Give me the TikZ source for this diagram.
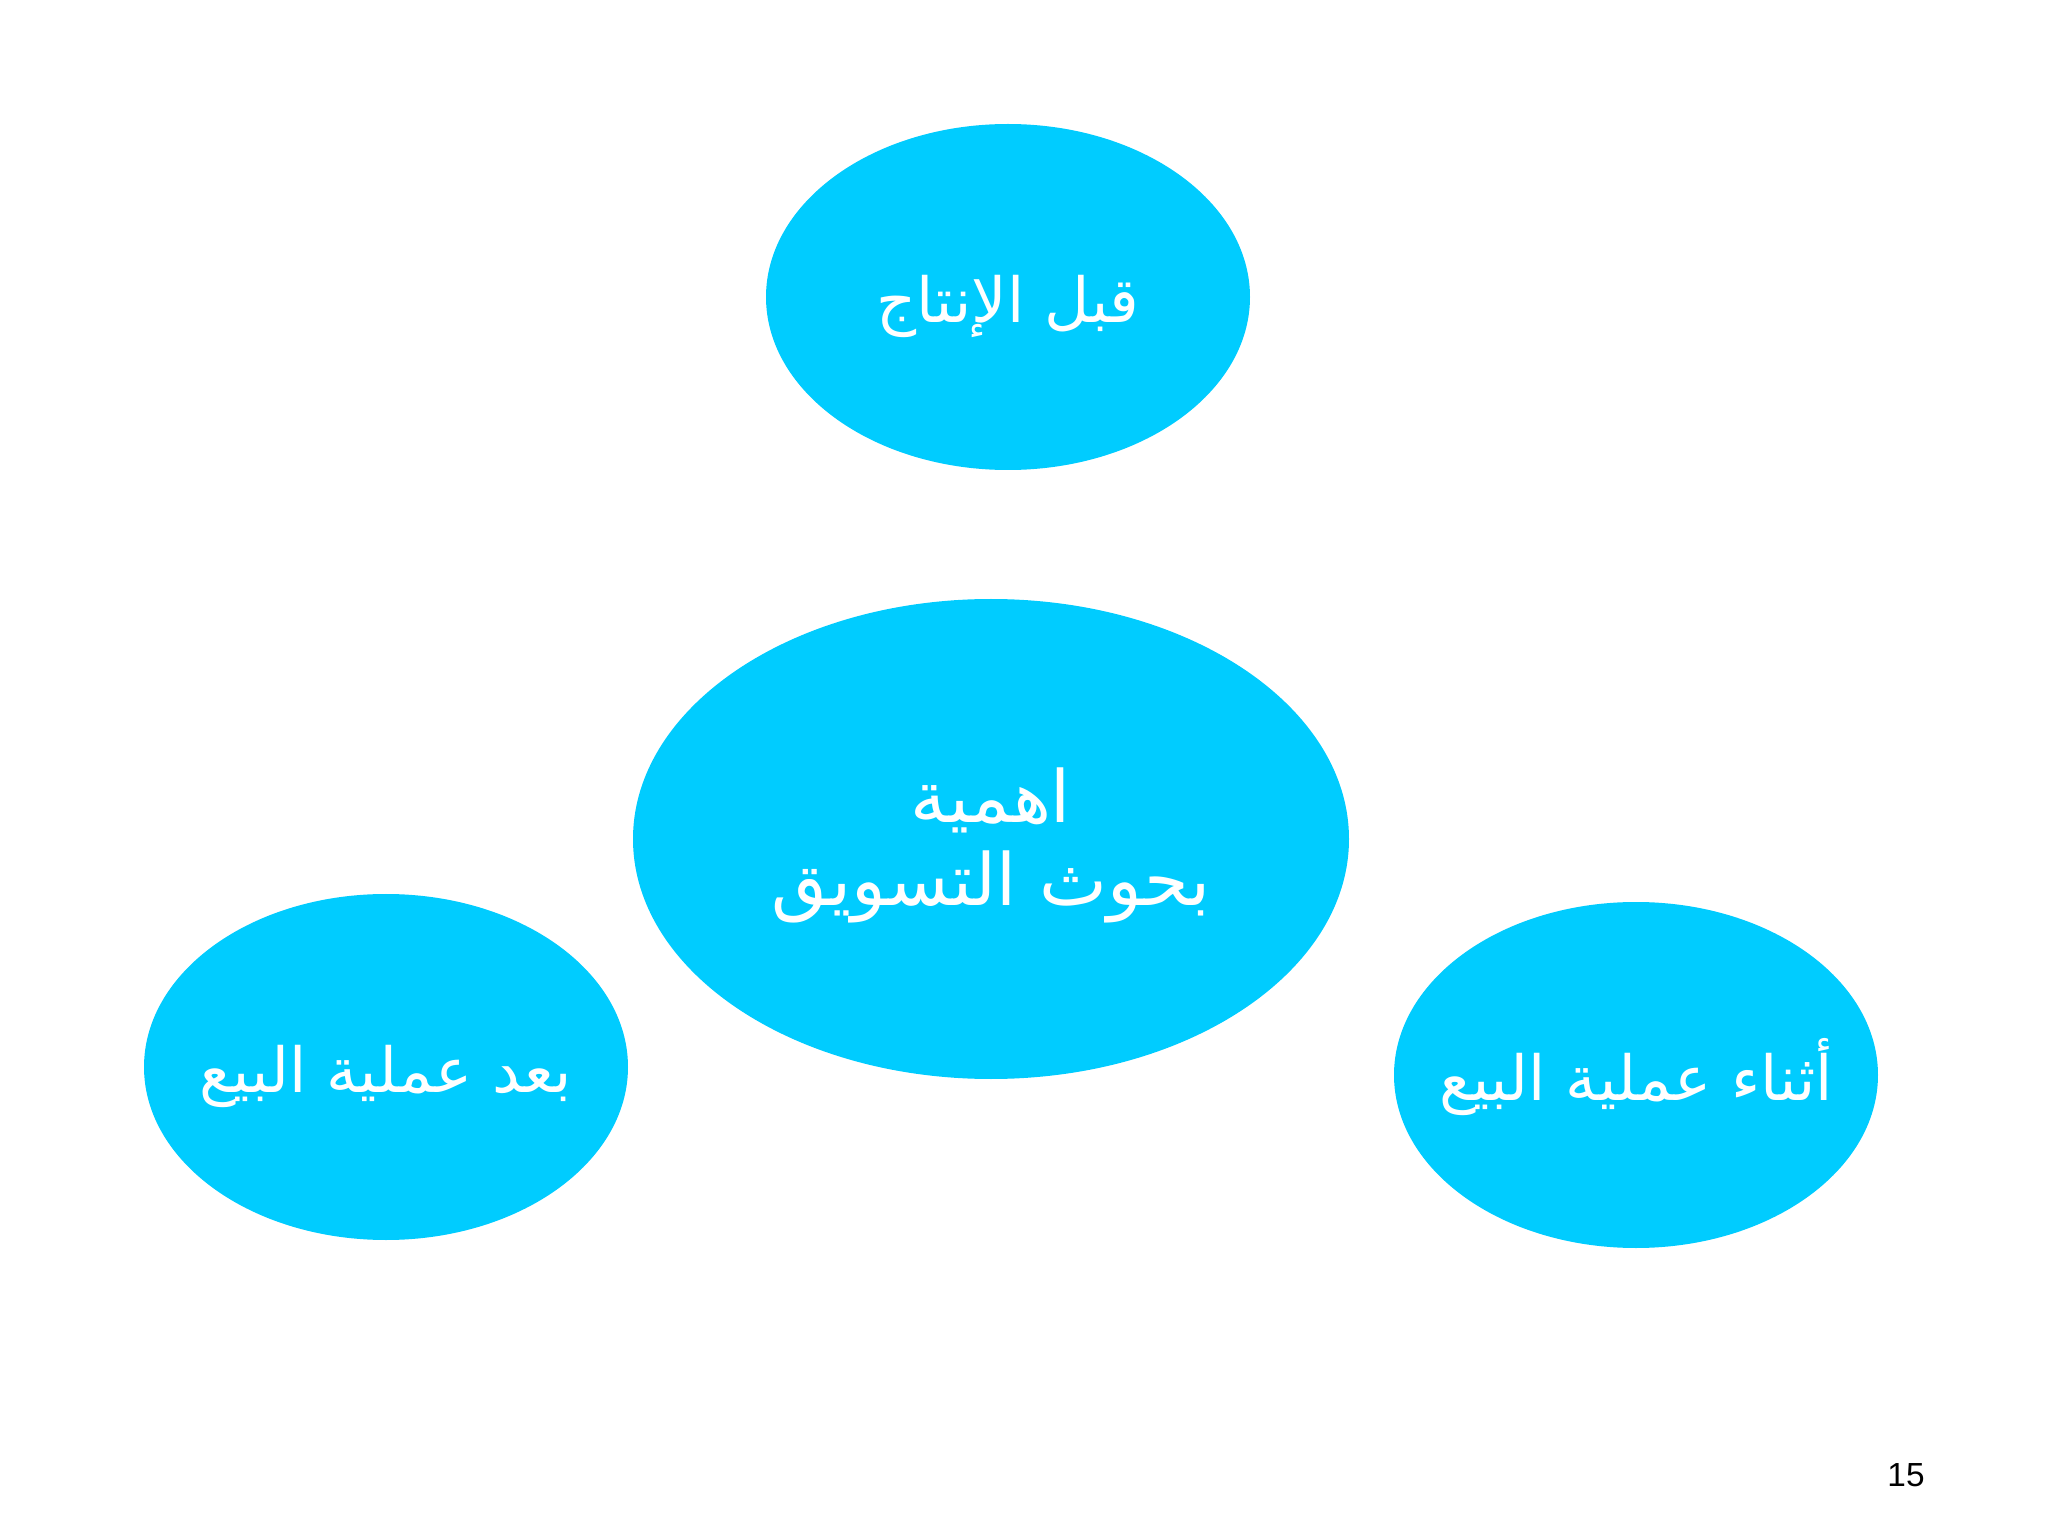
\documentclass[tikz,border=0pt]{standalone}
\usepackage{fontspec}
\setmainfont{Liberation Sans}
\newfontfamily\arabicfont[Script=Arabic]{DejaVu Sans}
\TeXXeTstate=1
\usetikzlibrary{shapes.geometric}
\definecolor{skyblue}{HTML}{00CCFF}
\newcommand{\rtl}[1]{\raisebox{-7.2pt}[0pt][0pt]{\beginR #1\endR}}

\begin{document}
\begin{tikzpicture}[
    blob/.style={ellipse, fill=skyblue, draw=none, inner sep=0pt, inner xsep=-0.6cm,
      minimum width=4.84cm, minimum height=3.46cm,
      text=white, font=\arabicfont\fontsize{17.7}{22}\selectfont},
    bigblob/.style={blob, minimum width=7.16cm, minimum height=4.8cm,
      align=center, font=\arabicfont\fontsize{20.5}{23.6}\selectfont}
  ]
  \useasboundingbox (0,0) rectangle (20.48,-15.36);
  \node[blob] (pre) at (10.08,-2.97) {\rtl{قبل الإنتاج}};
  \node[bigblob] (core) at (9.91,-8.39) {\rtl{اهمية}\\ \rtl{بحوث التسويق}};
  \node[blob] (post) at (3.86,-10.67) {\rtl{بعد عملية البيع}};
  \node[blob] (during) at (16.36,-10.75) {\rtl{أثناء عملية البيع}};
  \node[font=\fontsize{9.5}{11}\selectfont] (page) at (19.06,-14.75) {15};
\end{tikzpicture}
\end{document}
